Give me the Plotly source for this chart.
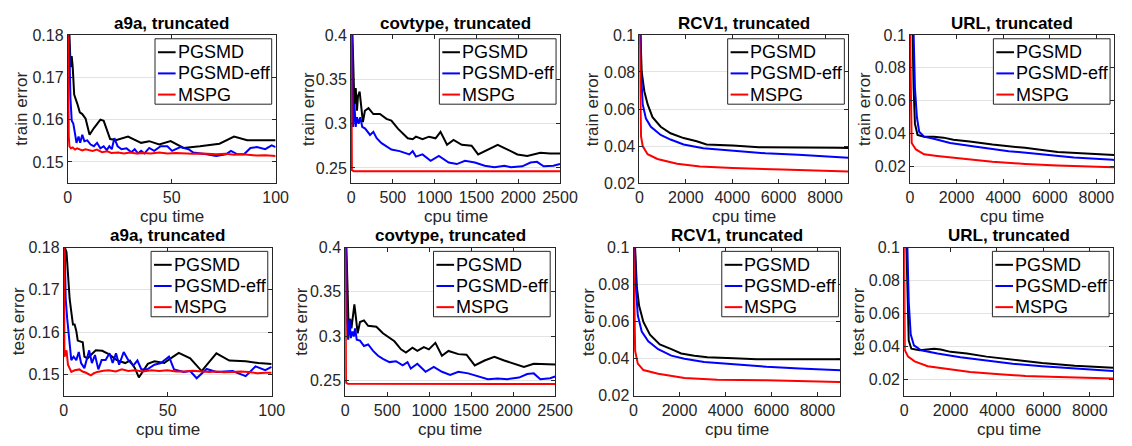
import plotly.graph_objects as go

W, H = 1132, 446
FONT = "Liberation Sans, Arial, Helvetica, sans-serif"

SERIES_NAMES = ["PGSMD", "PGSMD-eff", "MSPG"]
SERIES_COLORS = ["#000000", "#0000ff", "#ff0000"]
TITLES = ["a9a, truncated", "covtype, truncated", "RCV1, truncated", "URL, truncated"]
YLABELS = ["train error", "test error"]
XLABEL = "cpu time"

X_TICKS_A9A = [0, 50, 100]
X_TICKS_COV = [0, 500, 1000, 1500, 2000, 2500]
X_TICKS_BIG = [0, 2000, 4000, 6000, 8000]
Y_TICKS_A9A = [0.15, 0.16, 0.17, 0.18]
Y_TICKS_COV = [0.25, 0.3, 0.35, 0.4]
Y_TICKS_SMALL = [0.02, 0.04, 0.06, 0.08, 0.1]

# ---------------- a9a train ----------------
A9A_TR_PGSMD_X = [0.6, 0.8, 1.4, 1.9, 2.4, 3.1, 4.7, 5.8, 7, 8.6, 10.5, 12.6, 15.7, 17.3, 20.4, 23.5, 29, 35.3, 39.2, 44, 49.5, 55.7, 63.6, 73, 80, 86.3, 100]
A9A_TR_PGSMD_Y = [0.19, 0.18, 0.1724, 0.175, 0.1724, 0.1659, 0.1636, 0.1617, 0.1613, 0.1602, 0.1564, 0.158, 0.16, 0.1597, 0.1554, 0.1552, 0.156, 0.1545, 0.1549, 0.1541, 0.1549, 0.1533, 0.1537, 0.1543, 0.156, 0.1551, 0.1551]
A9A_TR_EFF_X = [0.4, 1.3, 1.9, 2.7, 3.6, 4.2, 5.2, 6, 7, 8, 9.4, 11, 12.6, 14.1, 15.7, 17.3, 18.8, 20, 21.2, 22.4, 24, 25.9, 28.3, 30.6, 32.2, 33.8, 35.3, 36.9, 39.2, 41.6, 44.7, 47.9, 50.2, 54.2, 58.1, 60.4, 66.7, 71.4, 76.1, 78.5, 81.6, 84.8, 87.9, 91, 95, 98.1, 100]
A9A_TR_EFF_Y = [0.185, 0.1651, 0.1598, 0.159, 0.1564, 0.1545, 0.156, 0.1545, 0.1564, 0.1549, 0.1551, 0.1541, 0.1537, 0.1545, 0.1532, 0.1537, 0.1528, 0.1537, 0.153, 0.1556, 0.1537, 0.153, 0.1532, 0.1523, 0.153, 0.152, 0.1526, 0.152, 0.1533, 0.1526, 0.1537, 0.1537, 0.1526, 0.1535, 0.153, 0.1522, 0.1518, 0.1514, 0.1518, 0.1526, 0.1518, 0.1518, 0.1533, 0.1535, 0.153, 0.1539, 0.1535]
A9A_TR_MSPG_X = [0, 0.2, 0.5, 0.8, 1.5, 2.4, 3.5, 4.5, 5.5, 7, 8.5, 10.2, 12, 14, 16.5, 19, 21, 24.3, 27, 30, 33, 36, 40, 44, 48, 52, 55.7, 60, 65, 71.4, 76, 80, 84, 87.1, 91, 95, 100]
A9A_TR_MSPG_Y = [0.185, 0.1636, 0.156, 0.1537, 0.1532, 0.1534, 0.1529, 0.1532, 0.153, 0.1527, 0.153, 0.1528, 0.1526, 0.1529, 0.1523, 0.1525, 0.1521, 0.1522, 0.152, 0.1522, 0.152, 0.1521, 0.152, 0.1522, 0.152, 0.1521, 0.152, 0.1519, 0.152, 0.1518, 0.1519, 0.1517, 0.1518, 0.1516, 0.1515, 0.1516, 0.1514]

# ---------------- covtype train ----------------
COV_TR_PGSMD_X = [10, 23, 39, 55, 70, 82, 102, 118, 141, 165, 208, 266, 345, 423, 482, 560, 619, 678, 737, 776, 854, 932, 1011, 1070, 1148, 1226, 1324, 1442, 1520, 1638, 1755, 1873, 1990, 2108, 2265, 2382, 2500]
COV_TR_PGSMD_Y = [0.42, 0.358, 0.322, 0.34, 0.3145, 0.331, 0.336, 0.322, 0.3017, 0.3145, 0.3174, 0.3108, 0.3108, 0.3054, 0.3035, 0.2944, 0.289, 0.2835, 0.2824, 0.2853, 0.2824, 0.2853, 0.2835, 0.2908, 0.2762, 0.2817, 0.2762, 0.2751, 0.2653, 0.2708, 0.2762, 0.2708, 0.2653, 0.2635, 0.2671, 0.2664, 0.2664]
COV_TR_EFF_X = [8, 16, 23, 39, 55, 70, 90, 110, 133, 168, 227, 266, 306, 364, 423, 482, 580, 658, 697, 737, 776, 854, 952, 1050, 1168, 1265, 1363, 1481, 1599, 1716, 1834, 1912, 2049, 2147, 2225, 2304, 2421, 2500]
COV_TR_EFF_Y = [0.42, 0.322, 0.2963, 0.322, 0.2963, 0.3072, 0.2999, 0.3072, 0.2963, 0.2944, 0.2872, 0.2908, 0.2835, 0.278, 0.2744, 0.2708, 0.269, 0.2671, 0.2653, 0.269, 0.2628, 0.2653, 0.258, 0.2635, 0.2562, 0.2544, 0.258, 0.2562, 0.2526, 0.2508, 0.2526, 0.2508, 0.2519, 0.2562, 0.2569, 0.2519, 0.2526, 0.2544]
COV_TR_MSPG_X = [0, 4, 6, 9, 30, 500, 1000, 1500, 2000, 2500]
COV_TR_MSPG_Y = [0.42, 0.33, 0.26, 0.2475, 0.2464, 0.2463, 0.2462, 0.2462, 0.2462, 0.2462]

# ---------------- RCV1 train ----------------
RCV_TR_PGSMD_X = [30, 42, 99, 212, 353, 564, 917, 1340, 1905, 2469, 2893, 4021, 5150, 8537, 9000]
RCV_TR_PGSMD_Y = [0.105, 0.1, 0.08, 0.0696, 0.0626, 0.0556, 0.0504, 0.0469, 0.0443, 0.0426, 0.0408, 0.0403, 0.0394, 0.0391, 0.039]
RCV_TR_EFF_X = [45, 71, 141, 282, 494, 917, 1340, 1905, 2751, 4021, 5432, 6843, 8537, 9000]
RCV_TR_EFF_Y = [0.105, 0.08, 0.0626, 0.0548, 0.0504, 0.046, 0.0435, 0.0408, 0.0388, 0.0374, 0.0361, 0.0353, 0.0339, 0.0337]
RCV_TR_MSPG_X = [0, 28, 71, 141, 353, 776, 1623, 2610, 4021, 6138, 8537, 9000]
RCV_TR_MSPG_Y = [0.1, 0.0626, 0.0452, 0.04, 0.0356, 0.033, 0.0304, 0.029, 0.0281, 0.0273, 0.0264, 0.0263]

# ---------------- URL train ----------------
URL_TR_PGSMD_X = [100, 112, 154, 210, 322, 602, 1021, 1441, 1861, 2560, 3539, 4938, 6337, 7736, 8715, 9000]
URL_TR_PGSMD_Y = [0.105, 0.1, 0.0677, 0.0461, 0.0392, 0.0382, 0.0382, 0.0376, 0.0363, 0.0353, 0.0334, 0.0314, 0.0289, 0.0275, 0.0269, 0.0268]
URL_TR_EFF_X = [140, 154, 210, 294, 392, 602, 1021, 1721, 2840, 4239, 5638, 7037, 8715, 9000]
URL_TR_EFF_Y = [0.105, 0.1, 0.0677, 0.05, 0.0412, 0.0382, 0.0369, 0.0343, 0.032, 0.0294, 0.0275, 0.0255, 0.0241, 0.0239]
URL_TR_MSPG_X = [0, 28, 70, 252, 602, 1161, 2140, 3539, 4938, 6337, 8715, 9000]
URL_TR_MSPG_Y = [0.1, 0.0579, 0.0343, 0.0304, 0.0275, 0.0265, 0.0249, 0.023, 0.0216, 0.0206, 0.0196, 0.0195]

# ---------------- a9a test ----------------
A9A_TE_PGSMD_X = [0.3, 0.5, 1.3, 1.7, 2.2, 2.8, 3.6, 4.4, 5.2, 6, 6.7, 7.8, 9.1, 9.9, 11.4, 13, 15.4, 18.5, 21.6, 25.5, 29.5, 31.8, 34.2, 36.1, 38.1, 40.4, 43.6, 48.3, 51.4, 55.3, 60.8, 66.3, 73.4, 79.6, 87.5, 93.7, 100]
A9A_TE_PGSMD_Y = [0.19, 0.18, 0.1789, 0.1754, 0.1709, 0.1679, 0.1648, 0.1618, 0.1618, 0.1603, 0.158, 0.1578, 0.1576, 0.1542, 0.1538, 0.1546, 0.1557, 0.1556, 0.1548, 0.1534, 0.1527, 0.1533, 0.1515, 0.1493, 0.1508, 0.1525, 0.1531, 0.1527, 0.1538, 0.1551, 0.1538, 0.1508, 0.155, 0.1533, 0.1531, 0.1527, 0.1525]
A9A_TE_EFF_X = [0.2, 0.9, 1.6, 2.2, 2.8, 3.6, 4.7, 6, 7.2, 8.3, 9.9, 11, 12.2, 13.5, 15, 16.6, 18.2, 20.1, 22, 23.5, 25.1, 26.6, 28.8, 31, 33.4, 35.4, 37.3, 40.4, 43.6, 46.7, 50.6, 53, 57.7, 60.8, 63.9, 68.7, 73.4, 81.2, 87.5, 92.2, 96.9, 100]
A9A_TE_EFF_Y = [0.185, 0.1679, 0.1633, 0.1603, 0.1572, 0.1534, 0.1542, 0.1534, 0.1553, 0.1527, 0.1515, 0.1538, 0.1557, 0.1527, 0.1546, 0.1512, 0.1534, 0.1534, 0.155, 0.1527, 0.155, 0.1523, 0.1553, 0.1534, 0.1521, 0.1533, 0.1512, 0.1513, 0.1523, 0.1527, 0.1542, 0.1512, 0.1506, 0.1508, 0.1491, 0.1513, 0.1506, 0.1508, 0.1496, 0.1519, 0.151, 0.1518]
A9A_TE_MSPG_X = [0, 0.3, 1.3, 2, 3.6, 5.2, 7.5, 9, 10.7, 13, 14.5, 16.1, 19, 21.6, 25, 27.9, 31, 34.2, 38, 42, 46, 49.8, 54, 57.7, 62, 65.5, 70, 73.4, 77, 81.2, 85, 89, 93, 96.9, 100]
A9A_TE_MSPG_Y = [0.185, 0.1542, 0.1557, 0.1523, 0.1506, 0.151, 0.1512, 0.1507, 0.1504, 0.1498, 0.1503, 0.1506, 0.1509, 0.151, 0.1507, 0.1512, 0.1508, 0.151, 0.1507, 0.151, 0.1508, 0.151, 0.1507, 0.1507, 0.1509, 0.1508, 0.1506, 0.1507, 0.1505, 0.1506, 0.1507, 0.1506, 0.1503, 0.1504, 0.1504]

# ---------------- covtype test ----------------
COV_TE_PGSMD_X = [8, 12, 27, 39, 59, 74, 90, 109, 129, 148, 176, 223, 273, 371, 449, 508, 586, 664, 723, 801, 859, 937, 996, 1074, 1152, 1230, 1348, 1445, 1543, 1660, 1777, 1894, 2012, 2129, 2246, 2363, 2500]
COV_TE_PGSMD_Y = [0.42, 0.4, 0.3558, 0.3124, 0.3196, 0.3088, 0.3233, 0.3359, 0.3196, 0.3033, 0.316, 0.3178, 0.3117, 0.3106, 0.3033, 0.2997, 0.2943, 0.2852, 0.2816, 0.287, 0.2834, 0.2878, 0.2852, 0.2925, 0.278, 0.2834, 0.2798, 0.2791, 0.2671, 0.2726, 0.2769, 0.2726, 0.269, 0.2653, 0.269, 0.269, 0.2682]
COV_TE_EFF_X = [6, 20, 35, 51, 66, 86, 102, 117, 137, 176, 223, 273, 332, 391, 449, 527, 605, 684, 742, 781, 859, 957, 1055, 1152, 1250, 1348, 1465, 1582, 1699, 1816, 1933, 2070, 2168, 2246, 2324, 2441, 2500]
COV_TE_EFF_Y = [0.42, 0.3196, 0.2961, 0.3196, 0.2979, 0.3052, 0.2997, 0.3088, 0.2961, 0.295, 0.2889, 0.2907, 0.2834, 0.278, 0.2744, 0.2708, 0.2718, 0.2671, 0.2708, 0.2635, 0.269, 0.2599, 0.2653, 0.2599, 0.2563, 0.2599, 0.2581, 0.2545, 0.2516, 0.2523, 0.2516, 0.2534, 0.2574, 0.2581, 0.2516, 0.2527, 0.2545]
COV_TE_MSPG_X = [0, 4, 6, 9, 30, 500, 1000, 1500, 2000, 2500]
COV_TE_MSPG_Y = [0.42, 0.33, 0.26, 0.2475, 0.2464, 0.2463, 0.2462, 0.2462, 0.2462, 0.2462]

# ---------------- RCV1 test ----------------
RCV_TE_PGSMD_X = [50, 71, 143, 243, 429, 715, 1143, 1643, 2072, 2644, 3215, 4358, 5359, 8931, 9000]
RCV_TE_PGSMD_Y = [0.105, 0.1, 0.0789, 0.0685, 0.0598, 0.0529, 0.0477, 0.0451, 0.0428, 0.0416, 0.0408, 0.0402, 0.0396, 0.0396, 0.0396]
RCV_TE_EFF_X = [60, 100, 186, 357, 643, 1072, 1643, 2215, 3072, 4358, 5787, 7216, 8931, 9000]
RCV_TE_EFF_Y = [0.1, 0.0789, 0.0633, 0.0546, 0.0494, 0.0451, 0.0416, 0.0399, 0.0382, 0.0368, 0.0356, 0.0347, 0.0338, 0.0337]
RCV_TE_MSPG_X = [0, 29, 71, 186, 429, 1072, 2215, 3644, 5787, 8931, 9000]
RCV_TE_MSPG_Y = [0.1, 0.0615, 0.0442, 0.0373, 0.0338, 0.0318, 0.0295, 0.0286, 0.0283, 0.0274, 0.0274]

# ---------------- URL test ----------------
URL_TE_PGSMD_X = [90, 99, 141, 197, 310, 662, 1295, 1577, 1999, 2703, 3548, 4675, 5942, 7350, 8970, 9000]
URL_TE_PGSMD_Y = [0.105, 0.1, 0.0668, 0.0434, 0.0385, 0.0376, 0.0385, 0.038, 0.0366, 0.0356, 0.0337, 0.0317, 0.0298, 0.0282, 0.0269, 0.0269]
URL_TE_EFF_X = [130, 141, 197, 282, 422, 732, 1436, 2422, 3548, 4675, 5942, 7350, 8970, 9000]
URL_TE_EFF_Y = [0.105, 0.1, 0.0668, 0.0473, 0.0405, 0.0376, 0.0356, 0.0333, 0.0314, 0.0294, 0.0278, 0.0263, 0.0249, 0.0249]
URL_TE_MSPG_X = [0, 28, 169, 451, 1014, 1999, 2844, 4111, 5238, 6646, 8970, 9000]
URL_TE_MSPG_Y = [0.1, 0.0376, 0.0337, 0.0308, 0.0279, 0.0259, 0.0243, 0.023, 0.022, 0.0214, 0.0204, 0.0204]

DATA = [
    [(A9A_TR_PGSMD_X, A9A_TR_PGSMD_Y), (A9A_TR_EFF_X, A9A_TR_EFF_Y), (A9A_TR_MSPG_X, A9A_TR_MSPG_Y)],
    [(COV_TR_PGSMD_X, COV_TR_PGSMD_Y), (COV_TR_EFF_X, COV_TR_EFF_Y), (COV_TR_MSPG_X, COV_TR_MSPG_Y)],
    [(RCV_TR_PGSMD_X, RCV_TR_PGSMD_Y), (RCV_TR_EFF_X, RCV_TR_EFF_Y), (RCV_TR_MSPG_X, RCV_TR_MSPG_Y)],
    [(URL_TR_PGSMD_X, URL_TR_PGSMD_Y), (URL_TR_EFF_X, URL_TR_EFF_Y), (URL_TR_MSPG_X, URL_TR_MSPG_Y)],
    [(A9A_TE_PGSMD_X, A9A_TE_PGSMD_Y), (A9A_TE_EFF_X, A9A_TE_EFF_Y), (A9A_TE_MSPG_X, A9A_TE_MSPG_Y)],
    [(COV_TE_PGSMD_X, COV_TE_PGSMD_Y), (COV_TE_EFF_X, COV_TE_EFF_Y), (COV_TE_MSPG_X, COV_TE_MSPG_Y)],
    [(RCV_TE_PGSMD_X, RCV_TE_PGSMD_Y), (RCV_TE_EFF_X, RCV_TE_EFF_Y), (RCV_TE_MSPG_X, RCV_TE_MSPG_Y)],
    [(URL_TE_PGSMD_X, URL_TE_PGSMD_Y), (URL_TE_EFF_X, URL_TE_EFF_Y), (URL_TE_MSPG_X, URL_TE_MSPG_Y)],
]

# layout (pixel boxes of each axes and legend top-right corner)
PANELS = [
    dict(xpx=(65, 277), ypx=(28, 182), xr=[0, 100], yr=[0.145, 0.18], xt=X_TICKS_A9A, yt=Y_TICKS_A9A, leg=(273, 32), ylx=18),
    dict(xpx=(354, 567), ypx=(28, 182), xr=[0, 2500], yr=[0.233, 0.4], xt=X_TICKS_COV, yt=Y_TICKS_COV, leg=(563, 32), ylx=311),
    dict(xpx=(648, 861), ypx=(28, 182), xr=[0, 9000], yr=[0.02, 0.1], xt=X_TICKS_BIG, yt=Y_TICKS_SMALL, leg=(857, 32), ylx=601),
    dict(xpx=(924, 1132), ypx=(28, 182), xr=[0, 8760], yr=[0.01, 0.1], xt=X_TICKS_BIG, yt=Y_TICKS_SMALL, leg=(1128, 32), ylx=878),
    dict(xpx=(61, 273), ypx=(249, 403), xr=[0, 100], yr=[0.145, 0.18], xt=X_TICKS_A9A, yt=Y_TICKS_A9A, leg=(269, 253), ylx=15),
    dict(xpx=(348, 562), ypx=(249, 403), xr=[0, 2500], yr=[0.233, 0.4], xt=X_TICKS_COV, yt=Y_TICKS_COV, leg=(557, 253), ylx=303),
    dict(xpx=(642, 853), ypx=(249, 403), xr=[0, 9000], yr=[0.02, 0.1], xt=X_TICKS_BIG, yt=Y_TICKS_SMALL, leg=(851, 253), ylx=596),
    dict(xpx=(918, 1131), ypx=(249, 403), xr=[0, 9000], yr=[0.01, 0.1], xt=X_TICKS_BIG, yt=Y_TICKS_SMALL, leg=(1127, 253), ylx=872),
]
LEG_W, LEG_H = 119, 68
LEG_ROWS = [14, 36, 58]

AX_COLOR = "#262626"


def px(xp):
    return xp / W


def py(yp):
    return 1 - yp / H


fig = go.Figure()
layout = dict(
    width=W, height=H, margin=dict(l=0, r=0, t=0, b=0),
    paper_bgcolor="white", plot_bgcolor="white",
    font=dict(family=FONT, color=AX_COLOR, size=16),
    showlegend=False, annotations=[], shapes=[],
)

for i, p in enumerate(PANELS):
    n = i + 1
    sx = "" if n == 1 else str(n)
    for k, (xs, ys) in enumerate(DATA[i]):
        fig.add_trace(go.Scatter(
            x=xs, y=ys, mode="lines", name=SERIES_NAMES[k],
            line=dict(color=SERIES_COLORS[k], width=2),
            xaxis=f"x{sx}", yaxis=f"y{sx}",
        ))
    x0, x1 = p["xpx"]
    y0, y1 = p["ypx"]
    layout[f"xaxis{sx}"] = dict(
        domain=[px(x0), min(px(x1), 1.0)], range=p["xr"], anchor=f"y{sx}",
        tickvals=p["xt"], ticktext=[str(v) for v in p["xt"]],
        showline=True, linecolor=AX_COLOR, linewidth=1, mirror="ticks",
        ticks="inside", ticklen=4, tickcolor=AX_COLOR,
        showgrid=False, zeroline=False, tickfont=dict(size=16, color=AX_COLOR),
    )
    layout[f"yaxis{sx}"] = dict(
        domain=[py(y1), py(y0)], range=p["yr"], anchor=f"x{sx}",
        tickvals=p["yt"], ticktext=[f"{v:g}" for v in p["yt"]],
        showline=True, linecolor=AX_COLOR, linewidth=1, mirror="ticks",
        ticks="inside", ticklen=4, tickcolor=AX_COLOR,
        showgrid=True, gridcolor="#e3e3e3", gridwidth=1, zeroline=False,
        tickfont=dict(size=16, color=AX_COLOR),
    )
    # legend box (drawn as a boxed key in the upper-right of each axes)
    lr, lt = p["leg"]
    ll = lr - LEG_W
    layout["shapes"].append(dict(
        type="rect", xref="paper", yref="paper", layer="above",
        x0=px(ll), x1=px(lr), y0=py(lt + LEG_H), y1=py(lt),
        line=dict(color=AX_COLOR, width=1), fillcolor="white",
    ))
    for k, name in enumerate(SERIES_NAMES):
        ry = lt + LEG_ROWS[k]
        layout["shapes"].append(dict(
            type="line", xref="paper", yref="paper", layer="above",
            x0=px(ll + 3), x1=px(ll + 21), y0=py(ry), y1=py(ry),
            line=dict(color=SERIES_COLORS[k], width=2),
        ))
        layout["annotations"].append(dict(
            text=name, xref="paper", yref="paper",
            x=px(ll + 21), y=py(ry), xanchor="left", yanchor="middle",
            showarrow=False, font=dict(size=18, color="#000000", family=FONT),
        ))
    row = 0 if i < 4 else 1
    col = i % 4
    cx = (x0 + x1) / 2
    layout["annotations"].append(dict(
        text=f"<b>{TITLES[col]}</b>", xref="paper", yref="paper",
        x=px(cx), y=py(y0 - 12), xanchor="center", yanchor="middle",
        showarrow=False, font=dict(size=17, color="#000000", family=FONT),
    ))
    layout["annotations"].append(dict(
        text=YLABELS[row], xref="paper", yref="paper", textangle=-90,
        x=px(p["ylx"]), y=py((y0 + y1) / 2), xanchor="center", yanchor="middle",
        showarrow=False, font=dict(size=17, color=AX_COLOR, family=FONT),
    ))
    layout["annotations"].append(dict(
        text=XLABEL, xref="paper", yref="paper",
        x=px(cx), y=py(y1 + 35), xanchor="center", yanchor="middle",
        showarrow=False, font=dict(size=17, color=AX_COLOR, family=FONT),
    ))

fig.update_layout(**layout)
fig.write_html(
    "out.html",
    config={"displayModeBar": False},
    post_script="document.body.style.margin='0';document.body.style.overflow='hidden';",
)
